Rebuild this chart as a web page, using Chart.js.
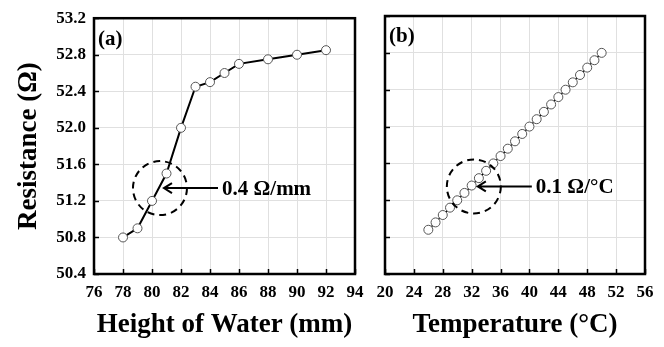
<!DOCTYPE html>
<html>
<head>
<meta charset="utf-8">
<script src="https://cdn.jsdelivr.net/npm/chart.js@4/dist/chart.umd.min.js"></script>
<style>
  html, body { margin: 0; padding: 0; background: #fff; }
  #wrap { position: relative; width: 664px; height: 347px; overflow: hidden; }
  .pane { position: absolute; top: 0; }
</style>
</head>
<body>
<div id="wrap">
  <canvas id="chartA" class="pane" style="left:0" width="380" height="347"></canvas>
  <canvas id="chartB" class="pane" style="left:340px" width="324" height="347"></canvas>
</div>
<script>
// panel (a): resistance vs height of water
const heightMm = [78, 79, 80, 81, 82, 83, 84, 85, 86, 88, 90, 92];
const resistanceA = [50.8, 50.9, 51.2, 51.5, 52.0, 52.45, 52.5, 52.6, 52.7, 52.75, 52.8, 52.85];

// panel (b): resistance vs temperature
const temperatureC = [26, 27, 28, 29, 30, 31, 32, 33, 34, 35, 36, 37, 38, 39, 40, 41, 42, 43, 44, 45, 46, 47, 48, 49, 50];
const resistanceB = [50.88, 50.96, 51.04, 51.12, 51.2, 51.28, 51.36, 51.44, 51.52, 51.6, 51.68, 51.76, 51.84,
  51.92, 52.0, 52.08, 52.16, 52.24, 52.32, 52.4, 52.48, 52.56, 52.64, 52.72, 52.8];

// tick labels
const heightTicks = [76, 78, 80, 82, 84, 86, 88, 90, 92, 94];
const tempTicks = [20, 24, 28, 32, 36, 40, 44, 48, 52, 56];
const resistanceTicks = [50.4, 50.8, 51.2, 51.6, 52.0, 52.4, 52.8, 53.2];

const SERIF = '"Liberation Serif", "DejaVu Serif", serif';

// frame, inward ticks, panel letter, dashed circle + arrow note
const framePlugin = {
  id: 'frame',
  afterDraw(chart, args, opts) {
    const { ctx, chartArea: a, scales } = chart;
    ctx.save();
    ctx.strokeStyle = '#000';
    ctx.lineWidth = 1.5;
    scales.x.ticks.forEach(t => {
      const px = Math.round(scales.x.getPixelForValue(t.value)) + 0.5;
      ctx.beginPath(); ctx.moveTo(px, a.bottom); ctx.lineTo(px, a.bottom - 5); ctx.stroke();
    });
    scales.y.ticks.forEach(t => {
      const py = Math.round(scales.y.getPixelForValue(t.value)) + 0.5;
      ctx.beginPath(); ctx.moveTo(a.left, py); ctx.lineTo(a.left + 5, py); ctx.stroke();
    });
    ctx.lineWidth = 2.5;
    ctx.strokeRect(a.left, a.top, a.right - a.left, a.bottom - a.top);

    ctx.fillStyle = '#000';
    ctx.font = 'bold 21px ' + SERIF;
    ctx.textBaseline = 'middle';
    ctx.textAlign = 'left';
    ctx.fillText(opts.label, a.left + 4, a.top + 21);

    // note
    const cx = scales.x.getPixelForValue(opts.noteX);
    const cy = scales.y.getPixelForValue(opts.noteY);
    ctx.lineWidth = 2;
    ctx.setLineDash([7, 5]);
    ctx.beginPath(); ctx.arc(cx, cy, 27, 0, Math.PI * 2); ctx.stroke();
    ctx.setLineDash([]);
    ctx.beginPath();
    ctx.moveTo(cx + 4, cy); ctx.lineTo(cx + 58, cy);
    ctx.moveTo(cx + 12, cy - 5); ctx.lineTo(cx + 4, cy); ctx.lineTo(cx + 12, cy + 5);
    ctx.stroke();
    ctx.fillText(opts.noteText, cx + 62, cy + 1);
    ctx.restore();
  }
};

function makeChart(id, xs, ys, xTicks, xMin, xMax, xTitle, opts) {
  return new Chart(document.getElementById(id), {
    type: 'line',
    data: {
      datasets: [{
        data: xs.map((x, i) => ({ x: x, y: ys[i] })),
        borderColor: '#000',
        borderWidth: opts.lineWidth,
        pointRadius: 4.5,
        pointBackgroundColor: '#fff',
        pointBorderColor: '#555',
        pointBorderWidth: 1,
        tension: 0
      }]
    },
    options: {
      responsive: false,
      animation: false,
      layout: { padding: { top: 16, right: opts.padRight, left: 0, bottom: 0 } },
      plugins: {
        legend: { display: false },
        tooltip: { enabled: false },
        frame: opts
      },
      scales: {
        x: {
          type: 'linear',
          min: xMin,
          max: xMax,
          afterBuildTicks: s => { s.ticks = xTicks.map(v => ({ value: v })); },
          afterFit: s => { s.height = 73; },
          grid: { color: '#e0e0e0', lineWidth: 1, drawTicks: false },
          border: { display: false },
          ticks: {
            color: '#000',
            padding: 8,
            maxRotation: 0,
            font: { family: SERIF, size: 17, weight: 'bold' }
          },
          title: {
            display: true,
            text: xTitle,
            color: '#000',
            padding: { top: 0, bottom: 6 },
            font: { family: SERIF, size: 27, weight: 'bold' }
          }
        },
        y: {
          min: 50.4,
          max: 53.2,
          afterBuildTicks: s => { s.ticks = resistanceTicks.map(v => ({ value: v })); },
          afterFit: s => { s.width = opts.yWidth; },
          grid: { color: '#e0e0e0', lineWidth: 1, drawTicks: false },
          border: { display: false },
          ticks: {
            display: opts.showY,
            color: '#000',
            padding: 8,
            callback: v => v.toFixed(1),
            font: { family: SERIF, size: 17, weight: 'bold' }
          },
          title: {
            display: opts.showY,
            text: 'Resistance (Ω)',
            color: '#000',
            padding: { top: 13, bottom: 0 },
            font: { family: SERIF, size: 27, weight: 'bold' }
          }
        }
      }
    },
    plugins: [framePlugin]
  });
}

makeChart('chartA', heightMm, resistanceA, heightTicks, 76, 94, 'Height of Water (mm)', {
  label: '(a)', noteText: '0.4 Ω/mm', noteX: 80.55, noteY: 51.34,
  lineWidth: 2, padRight: 25, yWidth: 94, showY: true
});

makeChart('chartB', temperatureC, resistanceB, tempTicks, 20, 56, 'Temperature (°C)', {
  label: '(b)', noteText: '0.1 Ω/°C', noteX: 32.3, noteY: 51.35,
  lineWidth: 1.5, padRight: 19, yWidth: 45, showY: false
});
</script>
</body>
</html>
